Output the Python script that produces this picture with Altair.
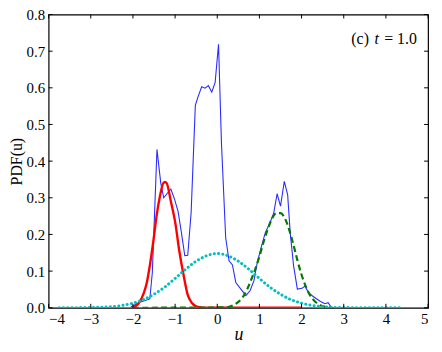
import altair as alt
import pandas as pd

# ---- data ----
blue_u = [-2.05, -1.87, -1.60, -1.54, -1.43, -1.34, -1.27, -1.18, -1.10, -1.01, -0.93, -0.85,
          -0.77, -0.70, -0.62, -0.52, -0.46, -0.37, -0.29, -0.21, -0.13, -0.05, 0.03, 0.10,
          0.20, 0.28, 0.36, 0.44, 0.56, 0.68, 0.78, 0.87, 0.95, 1.04, 1.14, 1.25, 1.34, 1.42,
          1.50, 1.59, 1.67, 1.73, 1.81, 1.90, 2.01, 2.08, 2.16, 2.26, 2.36, 2.45, 2.55, 2.63,
          2.70, 2.75]
blue_p = [0.002, 0.014, 0.024, 0.096, 0.432, 0.340, 0.300, 0.313, 0.324, 0.295, 0.263, 0.205,
          0.142, 0.143, 0.259, 0.552, 0.574, 0.603, 0.599, 0.606, 0.588, 0.615, 0.719, 0.448,
          0.191, 0.128, 0.117, 0.069, 0.051, 0.033, 0.047, 0.074, 0.124, 0.164, 0.205, 0.232,
          0.259, 0.311, 0.277, 0.345, 0.308, 0.205, 0.115, 0.051, 0.053, 0.059, 0.042, 0.032,
          0.024, 0.017, 0.011, 0.014, 0.002, 0.0]

red_u = [-2.0, -1.95, -1.87, -1.75, -1.67, -1.60, -1.52, -1.44, -1.36, -1.28, -1.24, -1.20,
         -1.10, -1.00, -0.90, -0.80, -0.70, -0.60, -0.50, -0.40, -0.30, 2.0]
red_p = [0.0, 0.004, 0.011, 0.038, 0.069, 0.115, 0.178, 0.250, 0.304, 0.340, 0.343, 0.340,
         0.290, 0.235, 0.155, 0.090, 0.035, 0.013, 0.004, 0.001, 0.0, 0.0]

cyan_u = [-3.75, -3.5, -3.25, -3.0, -2.75, -2.5, -2.25, -2.0, -1.75, -1.5, -1.25, -1.0, -0.75,
          -0.5, -0.25, 0.0, 0.25, 0.5, 0.75, 1.0, 1.25, 1.5, 1.75, 2.0, 2.25, 2.5, 2.75, 3.0,
          3.5, 4.0, 4.4]
cyan_p = [0.0, 0.0002, 0.0005, 0.001, 0.0015, 0.003, 0.0065, 0.0125, 0.022, 0.037, 0.056,
          0.080, 0.105, 0.127, 0.142, 0.148, 0.142, 0.127, 0.105, 0.080, 0.056, 0.037, 0.022,
          0.0125, 0.0065, 0.003, 0.0013, 0.0006, 0.0001, 0.0, 0.0]

green_u = [-2.0, 0.2, 0.3, 0.4, 0.5, 0.6, 0.7, 0.8, 0.9, 1.0, 1.1, 1.2, 1.3, 1.4, 1.5, 1.6,
           1.7, 1.8, 1.9, 2.0, 2.1, 2.2, 2.3, 2.4, 2.5, 2.6, 2.7]
green_p = [0.0, 0.001, 0.003, 0.008, 0.016, 0.028, 0.048, 0.075, 0.105, 0.140, 0.180, 0.215,
           0.243, 0.258, 0.258, 0.245, 0.215, 0.175, 0.130, 0.090, 0.058, 0.034, 0.019, 0.010,
           0.004, 0.002, 0.0]

x_ticks = [-4, -3, -2, -1, 0, 1, 2, 3, 4, 5]
y_ticks = [0.0, 0.1, 0.2, 0.3, 0.4, 0.5, 0.6, 0.7, 0.8]

W, H = 383, 296
FONT = "Liberation Serif"

xs = alt.Scale(domain=[-4, 5], nice=False, zero=False)
ys = alt.Scale(domain=[0, 0.8], nice=False)

X_AXIS = alt.Axis(values=x_ticks, format="d", title="u", titleFontStyle="italic",
                  titleFontSize=18, titleBaseline="alphabetic", titleY=32, titlePadding=0,
                  labelPadding=4)
Y_AXIS = alt.Axis(values=y_ticks, format=".1f", title="PDF(u)", titleFontSize=16,
                  titleX=-32, titleBaseline="middle", labelPadding=4)


def xenc(field="u"):
    return alt.X(f"{field}:Q", scale=xs, axis=X_AXIS)


def yenc(field="p"):
    return alt.Y(f"{field}:Q", scale=ys, axis=Y_AXIS)


def line_layer(u, p, color, width, dash=None, cap="butt", interp="linear"):
    df = pd.DataFrame({"u": u, "p": p})
    kw = dict(color=color, strokeWidth=width, interpolate=interp, strokeCap=cap, clip=True)
    if dash is not None:
        kw["strokeDash"] = dash
    return alt.Chart(df).mark_line(**kw).encode(x=xenc(), y=yenc())


blue = line_layer(blue_u, blue_p, "#2b2bff", 1.1)
green = line_layer(green_u, green_p, "#007a00", 2.2, dash=[6, 3.5], interp="monotone")
cyan = line_layer(cyan_u, cyan_p, "#00bfbf", 3.0, dash=[0.1, 4.2], cap="round", interp="monotone")
red = line_layer(red_u, red_p, "#ff0000", 2.4, interp="monotone")

# inward ticks on all four sides
xt = pd.DataFrame({"v": x_ticks})
yt = pd.DataFrame({"v": y_ticks})
tick_style = dict(color="black", strokeWidth=1)
tb = alt.Chart(xt).mark_rule(**tick_style).encode(x=xenc("v"), y=alt.value(H), y2=alt.value(H - 4))
tt = alt.Chart(xt).mark_rule(**tick_style).encode(x=xenc("v"), y=alt.value(0), y2=alt.value(4))
tl = alt.Chart(yt).mark_rule(**tick_style).encode(y=yenc("v"), x=alt.value(0), x2=alt.value(4))
tr = alt.Chart(yt).mark_rule(**tick_style).encode(y=yenc("v"), x=alt.value(W), x2=alt.value(W - 4))

# annotation "(c) t = 1.0"
ann_u = [3.18, 3.73, 3.96]
ann_p = [0.733, 0.733, 0.733]
ann_txt = ["(c)", "t", "= 1.0"]
ann_style = ["normal", "italic", "normal"]
ann_df = pd.DataFrame({"u": ann_u, "p": ann_p, "t": ann_txt, "s": ann_style})
ann1 = alt.Chart(ann_df).transform_filter(alt.datum.s == "normal").mark_text(
    font=FONT, fontSize=16, align="left", baseline="middle", color="black").encode(
    x=xenc(), y=yenc(), text="t:N")
ann2 = alt.Chart(ann_df).transform_filter(alt.datum.s == "italic").mark_text(
    font=FONT, fontSize=16, fontStyle="italic", align="left", baseline="middle", color="black").encode(
    x=xenc(), y=yenc(), text="t:N")

chart = alt.layer(blue, red, green, cyan, tb, tt, tl, tr, ann1, ann2).properties(
    width=W, height=H,
    background="white",
    autosize=alt.AutoSizeParams(type="none"),
    padding={"left": 41, "top": 5, "right": 6, "bottom": 35},
).configure_view(
    stroke="black", strokeWidth=1.2
).configure_axis(
    domain=False, ticks=False, grid=False,
    labelFont=FONT, labelFontSize=15, labelColor="black",
    titleFont=FONT, titleFontWeight="normal", titleColor="black",
)

chart.save("out.html", embed_options={"renderer": "svg", "actions": False})
